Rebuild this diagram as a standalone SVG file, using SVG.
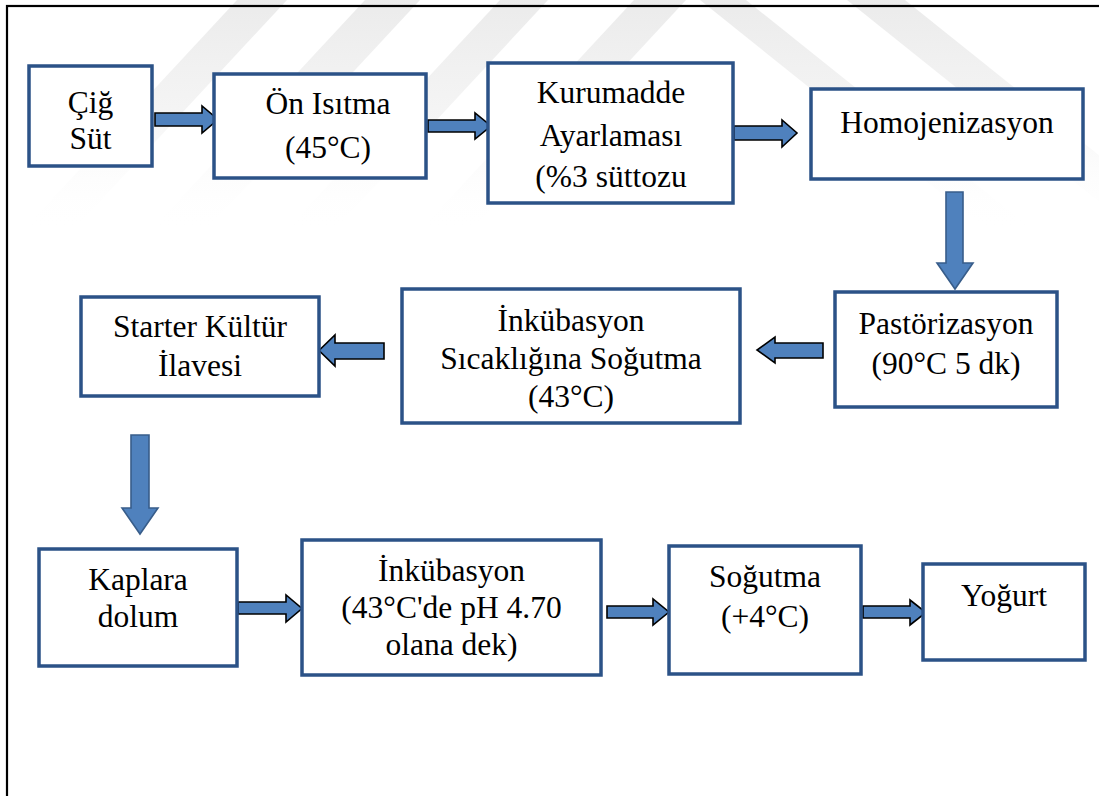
<svg xmlns="http://www.w3.org/2000/svg" width="1099" height="796" viewBox="0 0 1099 796">
<style>
.box{fill:#fff;stroke:#2b5287;stroke-width:3.5}
.t{font-family:'Liberation Serif',Tinos,'Noto Serif','Nimbus Roman','FreeSerif','Times New Roman',Times,'DejaVu Serif',serif;font-size:31.5px;fill:#000;text-anchor:middle}
.ah{fill:#4f81bd;stroke:#000;stroke-width:1.6;stroke-linejoin:miter}
.av{fill:#4f81bd;stroke:#385d8a;stroke-width:1.6;stroke-linejoin:miter}
.wm{fill:url(#wmg)}
</style>
<defs>
<linearGradient id="wmg" gradientUnits="userSpaceOnUse" x1="0" y1="0" x2="0" y2="230">
<stop offset="0" stop-color="#ebebeb" stop-opacity="1"/>
<stop offset="0.5" stop-color="#f0f0f0" stop-opacity="0.7"/>
<stop offset="1" stop-color="#ffffff" stop-opacity="0"/>
</linearGradient>
</defs>
<rect x="0" y="0" width="1099" height="796" fill="#fff"/>
<g id="watermark">
<polygon class="wm" points="237,0 287,0 78,225 28,225"/>
<polygon class="wm" points="365,0 420,0 211,225 156,225"/>
<polygon class="wm" points="500,0 548,0 339,225 291,225"/>
<polygon class="wm" points="634,0 686,0 477,225 425,225"/>
<polygon class="wm" points="700,0 746,0 1027,225 981,225"/>
<polygon class="wm" points="847,0 905,0 1186,225 1128,225"/>
</g>
<rect id="frame" x="7" y="6" width="1200" height="900" fill="none" stroke="#000" stroke-width="2.2"/>
<g id="connectors">
<polygon class="ah" points="155,113 202,113 202,106 218,119.5 202,133 202,126 155,126"/>
<polygon class="ah" points="428,120 475,120 475,113 491,126 475,139 475,132 428,132"/>
<polygon class="ah" points="734,126 782,126 782,120 797,133 782,147 782,140 734,140"/>
<polygon class="av" points="946,192 963,192 963,263 973,263 955,289 937,263 946,263"/>
<polygon class="ah" points="823,343 775,343 775,337 757,350 775,363 775,358 823,358"/>
<polygon class="ah" points="384,343 335,343 335,335 319,350.5 335,366 335,359 384,359"/>
<polygon class="av" points="131,435 149,435 149,508 158,508 140,534 122,508 131,508"/>
<polygon class="ah" points="238,602 286,602 286,595 302,608.5 286,622 286,614 238,614"/>
<polygon class="ah" points="607,606 653,606 653,599 669,612 653,625 653,618 607,618"/>
<polygon class="ah" points="863,606 910,606 910,600 926,612.5 910,625 910,618 863,618"/>
</g>
<g id="n1"><rect class="box" x="29" y="66" width="123" height="100"/>
<text class="t" x="90.5" y="113">Çiğ</text><text class="t" x="90.5" y="149">Süt</text></g>
<g id="n2"><rect class="box" x="214" y="74" width="212" height="104"/>
<text class="t" x="328" y="114">Ön Isıtma</text><text class="t" x="328" y="158">(45°C)</text></g>
<g id="n3"><rect class="box" x="488" y="63" width="245" height="140"/>
<text class="t" x="611" y="103">Kurumadde</text><text class="t" x="611" y="146">Ayarlaması</text><text class="t" x="611" y="187">(%3 süttozu</text></g>
<g id="n4"><rect class="box" x="811" y="89" width="272" height="90"/>
<text class="t" x="947" y="133">Homojenizasyon</text></g>
<g id="n5"><rect class="box" x="835" y="292" width="222" height="115"/>
<text class="t" x="946" y="334">Pastörizasyon</text><text class="t" x="946" y="374">(90°C 5 dk)</text></g>
<g id="n6"><rect class="box" x="402" y="289" width="338" height="134"/>
<text class="t" x="571" y="331">İnkübasyon</text><text class="t" x="571" y="369">Sıcaklığına Soğutma</text><text class="t" x="571" y="407">(43°C)</text></g>
<g id="n7"><rect class="box" x="81" y="297" width="238" height="99"/>
<text class="t" x="200" y="337">Starter Kültür</text><text class="t" x="200" y="376">İlavesi</text></g>
<g id="n8"><rect class="box" x="39" y="549" width="198" height="117"/>
<text class="t" x="138" y="590">Kaplara</text><text class="t" x="138" y="627">dolum</text></g>
<g id="n9"><rect class="box" x="302" y="540" width="299" height="135"/>
<text class="t" x="451.5" y="581">İnkübasyon</text><text class="t" x="451.5" y="618">(43°C'de pH 4.70</text><text class="t" x="451.5" y="655">olana dek)</text></g>
<g id="n10"><rect class="box" x="669" y="546" width="192" height="128"/>
<text class="t" x="765" y="587">Soğutma</text><text class="t" x="765" y="627">(+4°C)</text></g>
<g id="n11"><rect class="box" x="923" y="564" width="162" height="96"/>
<text class="t" x="1004" y="606">Yoğurt</text></g>
</svg>
